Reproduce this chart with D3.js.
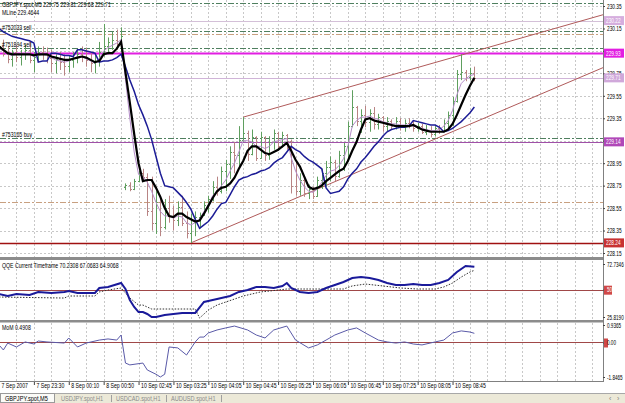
<!DOCTYPE html>
<html><head><meta charset="utf-8">
<script src="https://cdn.jsdelivr.net/npm/d3@7"></script>
<style>
body{margin:0;background:#fff;overflow:hidden}
svg{display:block}
text{font-family:"Liberation Sans",Arial,sans-serif;font-size:7px;fill:#000}
</style>
</head><body>
<svg id="c" width="625" height="403"></svg>
<script>
// ---------- DATA ----------
const symbolTitle = "GBPJPY.spot,M5  229.75 229.81 229.68 229.71";
const mlineTitle = "MLine 229.4644";
const qqeTitle = "QQE Current Timeframe 70.2308 67.0683 64.9068";
const momTitle = "MoM 0.4908";

const opens = [229.94,229.99,229.92,229.88,229.94,229.90,229.92,229.96,229.87,229.90,229.94,229.92,229.89,229.84,229.88,229.85,229.82,229.87,229.89,229.92,229.90,229.87,229.84,229.86,229.94,229.99,229.98,230.05,230.01,
228.74,228.76,228.72,228.79,228.86,228.83,228.52,228.42,228.60,228.38,228.55,228.48,228.44,228.56,228.42,228.33,228.44,228.47,228.49,228.58,228.63,228.74,228.70,228.88,228.94,229.05,229.02,229.16,229.22,229.03,229.18,229.00,229.18,229.02,229.14,229.22,229.10,229.20,229.15,228.75,228.70,228.80,228.68,228.72,228.66,228.80,228.86,228.92,228.96,228.84,229.02,229.10,229.28,229.45,229.33,229.38,229.32,229.40,229.30,229.36,229.28,229.33,229.28,229.33,229.27,229.31,229.29,229.26,229.28,229.23,229.25,229.21,229.26,229.24,229.31,229.38,229.50,229.74,229.76,229.72,229.75];
const highs = [230.03,230.05,229.99,229.96,230.00,229.96,230.01,230.03,229.94,229.99,229.99,229.98,229.96,229.92,229.94,229.92,229.91,229.94,229.96,229.99,229.98,229.94,229.92,230.03,230.19,230.07,230.12,230.14,230.16,
228.77,228.78,228.81,228.88,228.90,228.86,228.83,228.70,228.66,228.63,228.66,228.57,228.61,228.66,228.52,228.50,228.52,228.51,228.61,228.66,228.79,228.83,228.92,228.98,229.10,229.14,229.28,229.36,229.24,229.25,229.19,229.23,229.19,229.19,229.25,229.23,229.23,229.21,229.16,228.98,228.86,228.81,228.76,228.74,228.83,228.90,228.97,229.01,228.98,229.06,229.13,229.32,229.60,229.46,229.43,229.46,229.43,229.45,229.39,229.37,229.36,229.34,229.36,229.35,229.34,229.35,229.33,229.31,229.30,229.29,229.28,229.28,229.29,229.34,229.41,229.54,229.78,229.92,229.78,229.80,229.81];
const lows = [229.87,229.90,229.84,229.81,229.85,229.82,229.87,229.84,229.76,229.85,229.87,229.84,229.76,229.75,229.78,229.73,229.76,229.80,229.84,229.85,229.81,229.76,229.75,229.81,229.90,229.92,229.96,229.96,229.94,
228.71,228.70,228.71,228.78,228.79,228.48,228.35,228.32,228.30,228.36,228.42,228.35,228.39,228.39,228.28,228.24,228.30,228.37,228.48,228.51,228.61,228.66,228.68,228.70,228.81,228.86,228.92,229.14,228.97,229.02,228.97,228.99,228.97,228.98,229.07,229.06,229.09,229.07,228.68,228.66,228.66,228.65,228.63,228.63,228.65,228.72,228.74,228.79,228.79,228.82,228.88,228.97,229.27,229.28,229.22,229.27,229.23,229.25,229.25,229.23,229.23,229.25,229.25,229.24,229.23,229.26,229.23,229.23,229.21,229.20,229.18,229.19,229.21,229.23,229.25,229.28,229.49,229.69,229.68,229.69,229.68];
const closes = [229.99,229.92,229.88,229.94,229.90,229.92,229.96,229.87,229.90,229.94,229.92,229.89,229.84,229.88,229.85,229.82,229.87,229.89,229.92,229.90,229.87,229.84,229.86,229.94,229.99,230.03,230.05,230.01,230.08,
228.76,228.72,228.79,228.86,228.83,228.52,228.42,228.60,228.38,228.55,228.48,228.44,228.56,228.42,228.33,228.44,228.47,228.49,228.58,228.63,228.74,228.70,228.88,228.94,229.05,229.02,229.16,229.22,229.03,229.18,229.00,229.18,229.02,229.14,229.22,229.10,229.20,229.15,228.75,228.70,228.80,228.68,228.72,228.66,228.80,228.86,228.92,228.96,228.84,229.02,229.10,229.28,229.45,229.33,229.38,229.32,229.40,229.30,229.36,229.28,229.33,229.28,229.33,229.27,229.31,229.29,229.26,229.28,229.23,229.25,229.21,229.26,229.24,229.31,229.38,229.50,229.74,229.76,229.72,229.75,229.71];

const maBlack = [229.99,229.96,229.93,229.92,229.92,229.92,229.92,229.92,229.91,229.92,229.92,229.92,229.90,229.89,229.88,229.87,229.87,229.88,229.89,229.90,229.89,229.87,229.85,229.86,229.92,229.93,229.93,229.97,230.03,
229.76,229.49,229.21,228.95,228.79,228.80,228.80,228.73,228.65,228.55,228.48,228.47,228.50,228.50,228.47,228.45,228.43,228.44,228.50,228.57,228.64,228.70,228.73,228.74,228.77,228.82,228.90,228.97,229.06,229.10,229.10,229.07,229.04,229.03,229.05,229.07,229.10,229.13,229.06,228.98,228.92,228.83,228.74,228.72,228.73,228.75,228.79,228.82,228.85,228.88,228.90,228.97,229.06,229.14,229.25,229.34,229.35,229.33,229.32,229.31,229.30,229.29,229.28,229.28,229.28,229.28,229.29,229.27,229.25,229.24,229.23,229.23,229.23,229.23,229.25,229.30,229.38,229.47,229.56,229.64,229.71];
const maBlue = [230.15,230.12,230.10,230.08,230.07,230.06,230.05,230.04,230.02,229.85,229.86,229.86,229.93,229.93,229.92,229.91,229.91,229.90,229.96,229.96,229.95,229.94,229.93,229.85,229.86,229.86,229.87,229.89,229.92,
229.81,229.69,229.59,229.47,229.38,229.28,229.16,229.01,228.86,228.75,228.74,228.73,228.69,228.65,228.60,228.54,228.45,228.37,228.40,228.43,228.48,228.54,228.59,228.60,228.67,228.74,228.80,228.82,228.83,228.85,228.86,228.88,228.89,228.91,228.95,228.98,229.00,229.05,229.10,229.07,229.05,229.01,228.98,228.96,228.93,228.90,228.73,228.68,228.69,228.70,228.74,228.81,228.86,228.90,228.96,229.00,229.05,229.10,229.14,229.19,229.23,229.25,229.26,229.27,229.27,229.28,229.33,229.32,229.31,229.30,229.29,229.29,229.27,229.23,229.24,229.26,229.29,229.32,229.36,229.40,229.45];
const maFast = [229.97,229.95,229.92,229.91,229.92,229.92,229.93,229.92,229.90,229.91,229.92,229.91,229.89,229.87,229.86,229.85,229.86,229.88,229.90,229.90,229.88,229.86,229.84,229.88,229.95,229.98,230.00,230.02,230.05,
229.70,229.35,229.05,228.85,228.83,228.78,228.70,228.60,228.52,228.48,228.48,228.46,228.48,228.47,228.42,228.40,228.42,228.45,228.52,228.58,228.66,228.70,228.75,228.80,228.88,228.95,229.05,229.15,229.15,229.14,229.10,229.10,229.08,229.10,229.14,229.15,229.16,229.17,229.00,228.88,228.80,228.74,228.70,228.69,228.72,228.78,228.84,228.88,228.89,228.93,228.99,229.10,229.28,229.33,229.36,229.36,229.37,229.35,229.34,229.32,229.31,229.30,229.30,229.29,229.29,229.29,229.28,229.27,229.26,229.25,229.24,229.24,229.25,229.28,229.33,229.42,229.56,229.66,229.70,229.73,229.74];

// QQE: [bar index, value]
const qqeRsi = [[0,46.2],[2,44.4],[4,46.2],[7,45.3],[9,48.0],[12,47.1],[15,48.0],[16,48.8],[18,47.1],[22,47.1],[23,51.5],[25,52.4],[28,55.9],[29,50.6],[30,40.9],[31,34.7],[32,30.2],[33,30.2],[34,28.5],[35,25.8],[36,25.8],[37,26.7],[38,27.6],[40,28.5],[42,29.4],[45,29.4],[47,39.1],[49,40.9],[51,42.6],[53,44.4],[55,48.0],[57,49.7],[59,52.4],[61,52.4],[63,51.5],[65,53.3],[66,55.9],[67,51.5],[69,48.0],[71,47.1],[73,48.0],[75,51.5],[77,54.1],[79,56.8],[81,60.3],[83,61.2],[85,60.3],[87,58.6],[89,55.9],[91,54.1],[93,54.1],[95,55.0],[97,54.1],[99,54.1],[101,55.9],[103,58.6],[105,65.7],[107,71.0],[109,70.2]];
const qqeTrail = [[0,43.5],[15,42.6],[16,44.4],[22,44.4],[23,48.0],[25,49.7],[28,51.5],[30,42.6],[32,36.4],[33,36.4],[35,32.9],[45,32.9],[46,24.9],[48,32.0],[50,36.4],[52,39.1],[54,41.7],[56,44.4],[58,46.2],[60,48.0],[62,48.8],[64,49.7],[66,50.6],[79,50.6],[81,53.3],[84,55.0],[88,53.3],[92,51.5],[96,50.6],[100,50.6],[102,52.4],[104,55.9],[106,61.2],[108,65.7],[109,67.1]];
const qqeScale = [25.8190, 50, 72.7346];
const qqeScaleLabels = ["25.8190", "50", "72.7346"];

// Momentum: [bar index, value]
const mom = [[0,-0.13],[1,-0.40],[2,-0.03],[4,-0.24],[6,0.03],[8,-0.08],[9,0.08],[11,0.03],[15,-0.03],[16,0.24],[18,-0.24],[20,-0.03],[23,0.13],[25,0.19],[27,0.13],[28,0.40],[29,-1.10],[30,-1.20],[33,-1.10],[34,-1.47],[36,-1.70],[37,-1.8465],[38,-1.70],[39,-0.24],[41,-0.29],[43,-0.67],[45,0.03],[46,0.29],[47,0.29],[48,0.51],[50,0.67],[52,0.78],[54,0.88],[57,0.67],[59,0.40],[61,0.24],[63,0.67],[66,0.88],[68,0.13],[71,-0.29],[73,-0.13],[75,0.13],[77,0.40],[80,0.67],[82,0.78],[84,0.51],[87,0.13],[89,0.03],[91,-0.03],[93,0.03],[95,-0.08],[97,-0.13],[100,0.03],[102,0.13],[104,0.51],[106,0.62],[108,0.56],[109,0.4908]];
const momScale = [-1.8465, 0, 0.9365];
const momScaleLabels = ["-1.8465", "0.00", "0.9365"];

const priceTicks = [230.35,230.15,229.95,229.75,229.55,229.35,229.15,228.95,228.75,228.55,228.35,228.15];
const timeTickBars = [0,8,16,24,32,40,48,56,64,72,80,88,96,104];
const timeLabels = ["7 Sep 2007","7 Sep 23:30","8 Sep 00:10","8 Sep 00:50","10 Sep 02:45","10 Sep 03:25","10 Sep 04:05","10 Sep 04:45","10 Sep 05:25","10 Sep 06:05","10 Sep 06:45","10 Sep 07:25","10 Sep 08:05","10 Sep 08:45"];

// horizontal level lines (price) and kinds
const levelPrices = [230.38, 230.22, 230.13, 230.10, 229.98, 229.93, 229.71, 229.17, 229.14, 228.60, 228.24];
const levelKinds  = ["order","hline","order","stop","order","mline","bid","order","buyline","stop","low"];
const levelLabels = [null,"230.22",null,null,null,"229.93","229.71",null,"229.14",null,"228.24"];
const orderNames = ["#752033 sell","#751894 sell","#753165 buy"];
const orderPrices = [230.13, 229.98, 229.17];

// channel trend lines: [bar, price] pairs
const chanLower = [[44,228.24],[100,229.165]];
const chanUpper = [[56,229.36],[110,229.957]];

const tabNames = ["GBPJPY.spot,M5","USDJPY.spot,H1","USDCAD.spot,H1","AUDUSD.spot,H1"];

// ---------- DRAW ----------
const svg = d3.select("#c");
const PR = 603; // plot right
const x = d3.scaleLinear().domain([0,138.5]).range([-1, PR]);
const yP = d3.scaleLinear().domain([228.15,230.35]).range([253,6]);
const yQ = d3.scaleLinear().domain([25.8190,72.7346]).range([317,264]);
const yM = d3.scaleLinear().domain([-1.8465,0.9365]).range([377,325]);
const K = 0.74;
function fit(sel,k){ sel.each(function(){ const L=this.getComputedTextLength(); if(L>0){this.setAttribute("textLength",(L*(k||K)).toFixed(1)); this.setAttribute("lengthAdjust","spacingAndGlyphs");}}); return sel; }

svg.append("rect").attr("width",625).attr("height",403).attr("fill","#fff");

const defs = svg.append("defs");
[["cm",0,0,PR,257],["cq",0,261,PR,59],["cmo",0,323,PR,58]].forEach(c=>{
  defs.append("clipPath").attr("id",c[0]).append("rect").attr("x",c[1]).attr("y",c[2]).attr("width",c[3]).attr("height",c[4]);
});

// vertical grid (every 4 bars) in all panels
const vgrid = d3.range(4,139,4);
[[0,257],[261,320],[323,381]].forEach(([a,b])=>{
  svg.append("g").selectAll("line").data(vgrid).join("line")
    .attr("x1",d=>Math.round(x(d))+0.5).attr("x2",d=>Math.round(x(d))+0.5)
    .attr("y1",a).attr("y2",b).attr("stroke","#c8c8c8").attr("stroke-dasharray","2,2");
});
// horizontal grid main
svg.append("g").selectAll("line").data(priceTicks).join("line")
  .attr("x1",0).attr("x2",PR).attr("y1",d=>Math.round(yP(d))+0.5).attr("y2",d=>Math.round(yP(d))+0.5)
  .attr("stroke","#c8c8c8").attr("stroke-dasharray","2,2");

const main = svg.append("g").attr("clip-path","url(#cm)");

// level lines
const levelStyle = {
  order:{c:"#4f7f5f",w:1,d:"6,2,2,2"},
  stop:{c:"#c8a080",w:1.2,d:"6,2,2,2"},
  hline:{c:"#d4c0d8",w:1,d:null},
  mline:{c:"#e21ee2",w:2,d:null},
  bid:{c:"#d0b4d8",w:1,d:null},
  buyline:{c:"#a050a8",w:1.2,d:null},
  low:{c:"#a01010",w:1.3,d:null}
};
levelPrices.forEach((p,k)=>{
  const s = levelStyle[levelKinds[k]];
  const yy = Math.round(yP(p))+0.5;
  main.append("line").attr("x1",0).attr("x2",PR).attr("y1",yy).attr("y2",yy)
    .attr("stroke",s.c).attr("stroke-width",s.w).attr("stroke-dasharray",s.d);
});

// channel lines
function ray(pts){
  const [a,b]=pts; const slope=(b[1]-a[1])/(b[0]-a[0]);
  const endI = 138.5;
  return [[a[0],a[1]],[endI,a[1]+slope*(endI-a[0])]];
}
[chanLower,chanUpper].forEach(c=>{
  const r=ray(c);
  main.append("line").attr("x1",x(r[0][0])).attr("y1",yP(r[0][1])).attr("x2",x(r[1][0])).attr("y2",yP(r[1][1]))
    .attr("stroke","#b05a5a").attr("stroke-width",1);
});

// OHLC bars
const bars = d3.range(opens.length);
const bg = main.append("g");
bars.forEach(i=>{
  const up = closes[i]>=opens[i];
  const col = up ? "#5f9f5f" : "#b88484";
  const xx = Math.round(x(i))+0.5;
  bg.append("line").attr("x1",xx).attr("x2",xx).attr("y1",yP(highs[i])).attr("y2",yP(lows[i])).attr("stroke",col);
  bg.append("line").attr("x1",xx-1.5).attr("x2",xx).attr("y1",Math.round(yP(opens[i]))+0.5).attr("y2",Math.round(yP(opens[i]))+0.5).attr("stroke",col);
  bg.append("line").attr("x1",xx).attr("x2",xx+1.5).attr("y1",Math.round(yP(closes[i]))+0.5).attr("y2",Math.round(yP(closes[i]))+0.5).attr("stroke",col);
});

// moving averages
const lineP = d3.line().x((d,i)=>x(i)).y(d=>yP(d));
main.append("path").attr("d",lineP(maFast)).attr("fill","none").attr("stroke","#b48cc8").attr("stroke-width",1);
main.append("path").attr("d",lineP(maBlue)).attr("fill","none").attr("stroke","#1c1c96").attr("stroke-width",1.5);
main.append("path").attr("d",lineP(maBlack)).attr("fill","none").attr("stroke","#000").attr("stroke-width",2.2);

// texts in main
fit(svg.append("text").attr("x",2).attr("y",7).text(symbolTitle));
fit(svg.append("text").attr("x",2).attr("y",15).text(mlineTitle));
orderNames.forEach((n,k)=>{
  fit(svg.append("text").attr("x",2).attr("y",yP(orderPrices[k])-1).text(n));
});

// QQE panel
const qg = svg.append("g").attr("clip-path","url(#cq)");
qg.append("line").attr("x1",0).attr("x2",PR).attr("y1",Math.round(yQ(50))+0.5).attr("y2",Math.round(yQ(50))+0.5).attr("stroke","#a04848");
const lq = d3.line().x(d=>x(d[0])).y(d=>yQ(d[1]));
qg.append("path").attr("d",lq(qqeTrail)).attr("fill","none").attr("stroke","#333").attr("stroke-width",1).attr("stroke-dasharray","1.5,1.5");
qg.append("path").attr("d",lq(qqeRsi)).attr("fill","none").attr("stroke","#1a1a9a").attr("stroke-width",2);
fit(svg.append("text").attr("x",2).attr("y",268).text(qqeTitle));

// MoM panel
const mg = svg.append("g").attr("clip-path","url(#cmo)");
mg.append("line").attr("x1",0).attr("x2",PR).attr("y1",Math.round(yM(0))+0.5).attr("y2",Math.round(yM(0))+0.5).attr("stroke","#a04848");
const lm = d3.line().x(d=>x(d[0])).y(d=>yM(d[1]));
mg.append("path").attr("d",lm(mom)).attr("fill","none").attr("stroke","#5a5aa8").attr("stroke-width",1);
fit(svg.append("text").attr("x",2).attr("y",330).text(momTitle));

// panel separators & borders
svg.append("rect").attr("x",0).attr("y",257).attr("width",PR+1).attr("height",3).attr("fill","#8c8c8c");
svg.append("rect").attr("x",0).attr("y",320).attr("width",PR+1).attr("height",2.5).attr("fill","#8c8c8c");
svg.append("line").attr("x1",0).attr("x2",PR).attr("y1",381.5).attr("y2",381.5).attr("stroke","#808080");
svg.append("line").attr("x1",PR+0.5).attr("x2",PR+0.5).attr("y1",0).attr("y2",382).attr("stroke","#808080");

// right price axis (grid labels hidden where a highlighted level label covers them)
const covered = priceTicks.filter(t=>levelPrices.some((p,k)=>levelLabels[k] && Math.abs(yP(p)-yP(t))<3.5));
const ax = d3.axisRight(yP).tickValues(priceTicks).tickSize(2).tickPadding(2)
  .tickFormat(d=>covered.includes(d)?"":d3.format(".2f")(d));
const axg = svg.append("g").attr("transform",`translate(${PR},0)`).call(ax);
axg.select(".domain").remove();
axg.selectAll("line").attr("stroke","#444");
axg.selectAll("text").attr("font-size","7px").attr("font-family","Liberation Sans, Arial").attr("fill","#222");
fit(axg.selectAll("text"),0.68);

// highlighted level labels
const labStyle = {hline:["#d6aede","#fff"], mline:["#e21ee2","#fff"], bid:["#d0a8da","#fff"], buyline:["#b048b8","#fff"], low:["#c83232","#fff"]};
levelPrices.forEach((p,k)=>{
  if(!levelLabels[k]) return;
  const s = labStyle[levelKinds[k]];
  const yy = yP(p);
  svg.append("rect").attr("x",PR+1).attr("y",yy-4.5).attr("width",20).attr("height",9).attr("fill",s[0]);
  fit(svg.append("text").attr("x",PR+3).attr("y",yy+2.5).style("fill",s[1]).text(levelLabels[k]),0.68);
});

// QQE axis labels
const qax = d3.axisRight(yQ).tickValues(qqeScale).tickSize(2).tickPadding(2).tickFormat((d,k)=>qqeScaleLabels[k]);
const qaxg = svg.append("g").attr("transform",`translate(${PR},0)`).call(qax);
qaxg.select(".domain").remove();
qaxg.selectAll("line").attr("stroke","#444");
qaxg.selectAll("text").attr("font-size","7px").attr("font-family","Liberation Sans, Arial");
qaxg.selectAll(".tick").filter(d=>d===50).insert("rect","text").attr("x",1).attr("y",-4.5).attr("width",8).attr("height",9).attr("fill","#d04848");
qaxg.selectAll(".tick").filter(d=>d===50).select("text").style("fill","#fff");
fit(qaxg.selectAll("text"),0.66);

// MoM axis labels
const max = d3.axisRight(yM).tickValues(momScale).tickSize(2).tickPadding(2).tickFormat((d,k)=>momScaleLabels[k]);
const maxg = svg.append("g").attr("transform",`translate(${PR},0)`).call(max);
maxg.select(".domain").remove();
maxg.selectAll("line").attr("stroke","#444");
maxg.selectAll("text").attr("font-size","7px").attr("font-family","Liberation Sans, Arial");
maxg.selectAll(".tick").filter(d=>d===0).insert("rect","text").attr("x",1).attr("y",-4.5).attr("width",4).attr("height",9).attr("fill","#d04848");
fit(maxg.selectAll("text"),0.66);

// time axis
const tax = d3.axisBottom(x).tickValues(timeTickBars).tickSize(3).tickPadding(0).tickFormat((d,k)=>timeLabels[k]);
const taxg = svg.append("g").attr("transform","translate(0,382)").call(tax);
taxg.select(".domain").remove();
taxg.selectAll("line").attr("stroke","#444");
taxg.selectAll("text").attr("text-anchor","start").attr("dx","2").attr("y",1).attr("dy","0.71em").attr("font-size","7px").attr("font-family","Liberation Sans, Arial");
fit(taxg.selectAll("text"));

// tab bar
svg.append("rect").attr("x",0).attr("y",393).attr("width",625).attr("height",10).attr("fill","#ece9d8");
svg.append("line").attr("x1",0).attr("x2",625).attr("y1",393.5).attr("y2",393.5).attr("stroke","#a8a8a8");
svg.append("rect").attr("x",0.5).attr("y",393.5).attr("width",54).attr("height",9).attr("fill","#fbfbf8").attr("stroke","#9a9a9a");
const tabX = [4,59,114,169];
tabNames.forEach((n,k)=>{
  const t = svg.append("text").attr("x",tabX[k]+(k?2:1)).attr("y",401).text(n).style("fill",k?"#8a8a8a":"#000");
  fit(t,0.8);
  if(k) svg.append("line").attr("x1",tabX[k]+52.5).attr("x2",tabX[k]+52.5).attr("y1",395).attr("y2",402).attr("stroke","#a0a0a0");
});
svg.append("text").attr("x",609).attr("y",400.5).text("‹").style("fill","#808080");
svg.append("text").attr("x",617).attr("y",400.5).text("›").style("fill","#808080");
</script>
</body></html>
